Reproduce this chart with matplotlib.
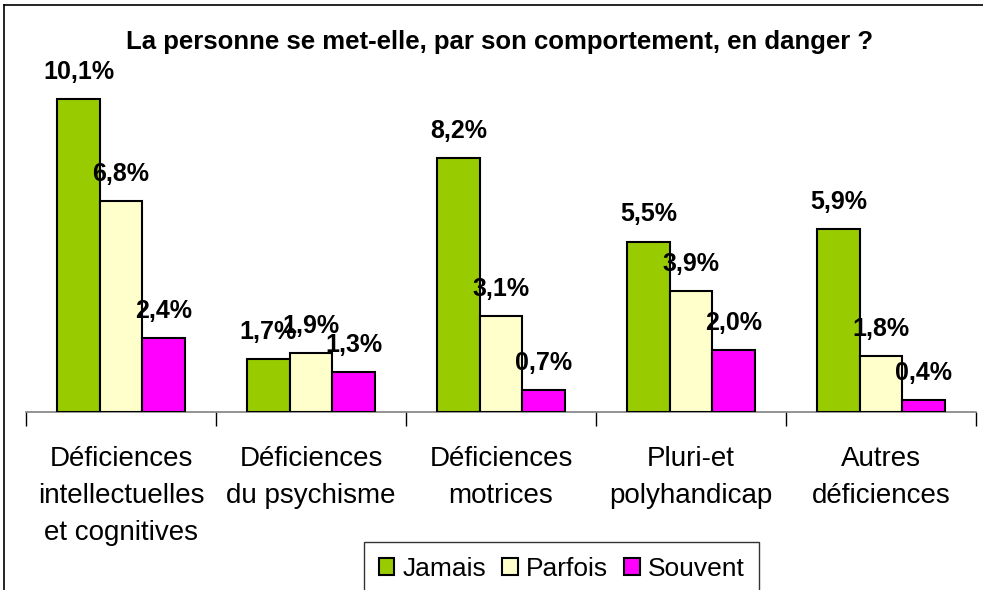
import matplotlib.pyplot as plt
from matplotlib.lines import Line2D
import numpy as np

plt.rcParams['font.family'] = ['Liberation Sans', 'DejaVu Sans']

categories = [
    "Déficiences\nintellectuelles\net cognitives",
    "Déficiences\ndu psychisme",
    "Déficiences\nmotrices",
    "Pluri-et\npolyhandicap",
    "Autres\ndéficiences",
]
series = ["Jamais", "Parfois", "Souvent"]
jamais = [10.1, 1.7, 8.2, 5.5, 5.9]
parfois = [6.8, 1.9, 3.1, 3.9, 1.8]
souvent = [2.4, 1.3, 0.7, 2.0, 0.4]
colors = ["#99CC00", "#FFFFCC", "#FF00FF"]

W, H = 983, 590
fig = plt.figure(figsize=(W / 100, H / 100), dpi=100)
ax = fig.add_axes([26 / W, 1 - 412 / H, 950 / W, 372 / H])

x = np.arange(len(categories))
width = 0.224
for i, (name, vals, col) in enumerate(zip(series, [jamais, parfois, souvent], colors)):
    pos = x + (i - 1) * width
    ax.bar(pos, vals, width, color=col, edgecolor="black", linewidth=1.5,
           label=name, zorder=3)
    for xp, v in zip(pos, vals):
        ax.annotate(f"{v:.1f}%".replace(".", ","), (xp, v),
                    xytext=(0, 19.5), textcoords="offset points",
                    ha="center", va="center", fontsize=18, fontweight="bold",
                    zorder=5)

ax.set_xlim(-0.5, len(categories) - 0.5)
ax.set_ylim(0, 12)
for s in ["top", "right", "left"]:
    ax.spines[s].set_visible(False)
ax.spines["bottom"].set_color("#808080")
ax.spines["bottom"].set_linewidth(1.2)
ax.set_yticks([])
ax.set_xticks(np.arange(-0.5, len(categories)))
ax.set_xticklabels([])
ax.tick_params(axis="x", length=10, width=1, color="black", direction="out")

# category labels below the axis
for xc, lab in zip(x, categories):
    ax.text(xc, -34 / 372, lab, transform=ax.get_xaxis_transform(),
            ha="center", va="top", fontsize=20, linespacing=1.56)

fig.text(500 / W, 1 - 42 / H, "La personne se met-elle, par son comportement, en danger ?",
         ha="center", va="center", fontsize=18.5, fontweight="bold")

leg = fig.legend(loc="upper center", bbox_to_anchor=(561.5 / W, 1 - 542 / H),
                 ncol=3, fontsize=19, frameon=True, fancybox=False,
                 edgecolor="black", handlelength=0.6, handleheight=0.6,
                 handletextpad=0.3, columnspacing=0.6, borderpad=0.55,
                 borderaxespad=0)
leg.get_frame().set_linewidth(1.0)

# outer chart border (top and left edges visible)
fig.add_artist(Line2D([4 / W, 4 / W], [0, 1 - 5 / H], transform=fig.transFigure,
                      color="black", linewidth=1.2))
fig.add_artist(Line2D([4 / W, 1], [1 - 5 / H, 1 - 5 / H], transform=fig.transFigure,
                      color="black", linewidth=1.2))

fig.savefig("out.png", dpi=100, facecolor="white")
